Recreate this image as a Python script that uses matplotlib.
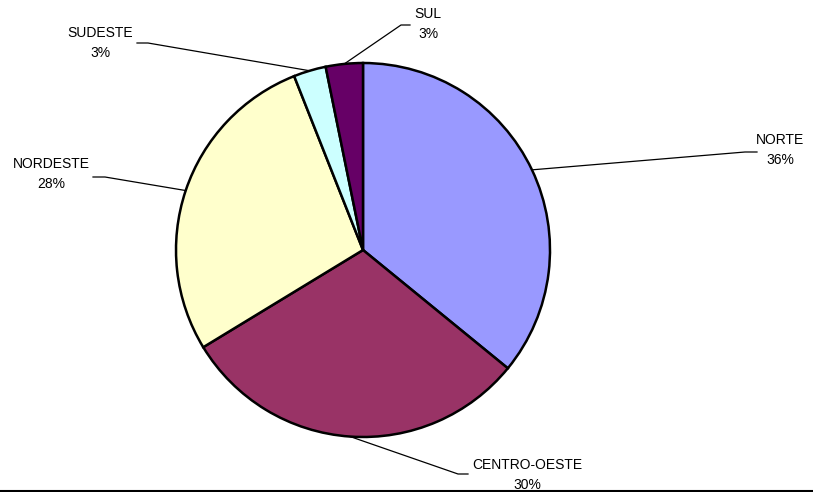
import numpy as np
import matplotlib.pyplot as plt

plt.rcParams['font.family'] = ['Liberation Sans', 'DejaVu Sans']

# dados
regioes = ['NORTE', 'CENTRO-OESTE', 'NORDESTE', 'SUDESTE', 'SUL']
valores = [35.9, 30.4, 27.7, 2.8, 3.2]
cores = ['#9999FF', '#993366', '#FFFFCC', '#CCFFFF', '#660066']

# posicoes dos rotulos (pixels): texto, cotovelo, fim da linha
texto_xy = [(780, 150), (527, 475), (51, 174), (100, 43), (428, 24)]
cotovelo_xy = [(745, 152), (458, 474), (105, 177), (148, 43), (401, 25)]
fim_xy = [(757, 152), (468, 474), (93, 177), (137, 43), (410, 25)]

W, H = 813, 492
fig = plt.figure(figsize=(W / 100, H / 100), dpi=100)
ax = fig.add_axes([0, 0, 1, 1])

cx, cy, r = 363, 250, 187
# eixo y invertido: counterclock=True aparece no sentido horario
wedges, _ = ax.pie(valores, colors=cores, startangle=-90, counterclock=True,
                   center=(cx, cy), radius=r, frame=True,
                   wedgeprops=dict(edgecolor='black', linewidth=1.8))
ax.set_xlim(0, W)
ax.set_ylim(H, 0)
ax.set_aspect('equal')
ax.axis('off')

for i, w in enumerate(wedges):
    ang = np.deg2rad((w.theta1 + w.theta2) / 2)
    x0 = cx + r * np.cos(ang)
    y0 = cy + r * np.sin(ang)
    ax.plot([x0, cotovelo_xy[i][0], fim_xy[i][0]],
            [y0, cotovelo_xy[i][1], fim_xy[i][1]], color='black', lw=0.9)
    tx, ty = texto_xy[i]
    ax.text(tx, ty, f'{regioes[i]}\n{valores[i]:.0f}%', ha='center', va='center',
            fontsize=10, linespacing=1.6)

# linha inferior
ax.plot([0, W], [490.5, 490.5], color='black', lw=1.5, clip_on=False)

fig.savefig('out.png', dpi=100)
